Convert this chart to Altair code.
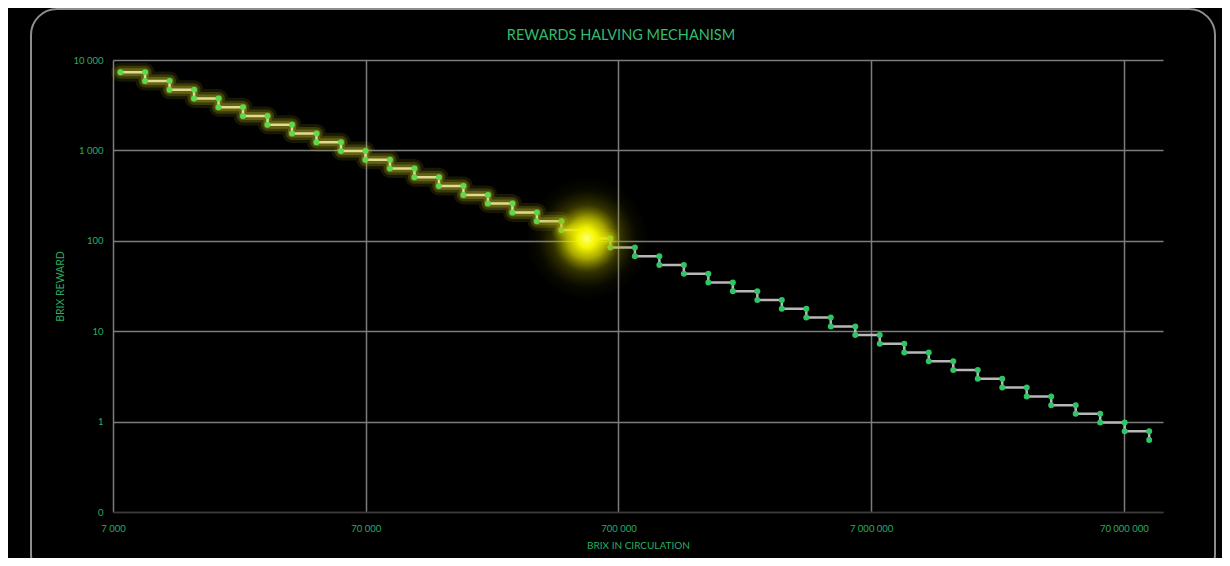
import altair as alt
import pandas as pd

# ---- data ----
circulation = [7500, 9375, 11719, 14648, 18311, 22888, 28610, 35763, 44703, 55879,
               69849, 87311, 109139, 136424, 170530, 213162, 266453, 333066, 416333, 520416,
               650520, 813150, 1016437, 1270547, 1588183, 1985229, 2481536, 3101920, 3877401, 4846751,
               6058438, 7573048, 9466310, 11832888, 14791110, 18488887, 23111109, 28888886, 36111108, 45138885,
               56423606, 70529508, 88161885]
reward = [7330, 5864, 4691, 3753, 3002, 2402, 1922, 1537, 1230, 984,
          787, 630, 504, 403, 322, 258, 206, 165, 132, 106,
          84.5, 67.6, 54.1, 43.3, 34.6, 27.7, 22.2, 17.7, 14.2, 11.3,
          9.07, 7.26, 5.81, 4.65, 3.72, 2.97, 2.38, 1.90, 1.52, 1.22,
          0.975, 0.780, 0.624]
current_circulation = [525000]
current_reward = [106]
x_ticks = [7000, 70000, 700000, 7000000, 70000000]
y_ticks = [0.1, 1, 10, 100, 1000, 10000]
progress_step = 20  # steps already reached (glowing part)
chart_title = "REWARDS HALVING MECHANISM"

# step table built from the lists above
rows = [{"idx": 0, "x": circulation[0], "y": reward[0]}]
for i in range(1, len(circulation)):
    rows.append({"idx": len(rows), "x": circulation[i], "y": reward[i - 1]})
    rows.append({"idx": len(rows), "x": circulation[i], "y": reward[i]})
steps = pd.DataFrame(rows)
cut = 2 * progress_step - 1
past = steps[steps["idx"] <= cut]
future = steps[steps["idx"] >= cut]
now = pd.DataFrame({"x": current_circulation, "y": current_reward})

GREEN_TXT = "#2aad62"
FONT = "Lato"
W, H = 1050, 452

fmt_num = "replace(replace(format(datum.value, ','), ',', ' '), ',', ' ')"

xs = alt.Scale(type="log", domain=[7000, 100000000], nice=False)
ys = alt.Scale(type="log", domain=[0.1, 10000], nice=False)

x_enc = alt.X("x:Q", scale=xs, title="BRIX IN CIRCULATION",
              axis=alt.Axis(values=x_ticks, labelExpr=fmt_num, grid=True, labelFlush=False,
                            gridColor="#7c7c7c", gridWidth=1.5, ticks=False,
                            domainColor="#3a3a3a", domainWidth=1.5,
                            labelColor=GREEN_TXT, labelFont=FONT, labelFontSize=9.5,
                            labelPadding=11, titleColor=GREEN_TXT, titleFont=FONT,
                            titleFontSize=10, titleFontWeight="normal", titlePadding=8))
y_enc = alt.Y("y:Q", scale=ys, title="BRIX REWARD",
              axis=alt.Axis(values=y_ticks,
                            labelExpr="datum.value < 1 ? '0' : " + fmt_num,
                            grid=True, labelFlush=False,
                            gridColor={"condition": {"test": "datum.value < 1", "value": "#3a3a3a"},
                                       "value": "#7c7c7c"},
                            gridWidth=1.5, ticks=False, domain=False,
                            labelColor=GREEN_TXT, labelFont=FONT, labelFontSize=9.5,
                            labelPadding=10, titleColor=GREEN_TXT, titleFont=FONT,
                            titleFontSize=10.5, titleFontWeight="normal", titlePadding=8))

frame = alt.Chart(pd.DataFrame({"a": [0]})).mark_rect(
    fillOpacity=0, stroke="#8e8e8e", strokeWidth=2, cornerRadius=26
).encode(x=alt.value(-82), x2=alt.value(1102), y=alt.value(-51), y2=alt.value(520))

title = alt.Chart(pd.DataFrame({"t": [chart_title]})).mark_text(
    color="#30bd6c", font=FONT, fontSize=14.5, align="center", baseline="middle"
).encode(text="t:N", x=alt.value(W / 2 - 17), y=alt.value(-24))

glow_layers = []
for w, op in [(19, 0.12), (13, 0.22), (8, 0.32)]:
    glow_layers.append(alt.Chart(past).mark_line(
        color="#bcbc22", strokeWidth=w, opacity=op, strokeCap="round", strokeJoin="round"
    ).encode(x=x_enc if not glow_layers else "x:Q", y=y_enc if not glow_layers else "y:Q",
             order="idx:Q"))

blob = alt.Chart(now).mark_circle(
    size=15000, opacity=1,
    fill={"gradient": "radial", "x1": 0.5, "y1": 0.5, "r1": 0, "x2": 0.5, "y2": 0.5, "r2": 0.5,
          "stops": [{"offset": 0, "color": "#ffff78"},
                    {"offset": 0.15, "color": "#f6f600"},
                    {"offset": 0.33, "color": "rgba(225,225,0,0.75)"},
                    {"offset": 0.55, "color": "rgba(170,170,0,0.3)"},
                    {"offset": 0.8, "color": "rgba(120,120,0,0.08)"},
                    {"offset": 1, "color": "rgba(100,100,0,0)"}]}
).encode(x="x:Q", y="y:Q")

core_past = alt.Chart(past).mark_line(
    color="#e2d992", strokeWidth=2.5, strokeJoin="round"
).encode(x="x:Q", y="y:Q", order="idx:Q")
core_future = alt.Chart(future).mark_line(
    color="#b8b8b8", strokeWidth=2.5, strokeJoin="round"
).encode(x="x:Q", y="y:Q", order="idx:Q")

dots_past = alt.Chart(past).mark_circle(color="#5fd84c", size=36, opacity=1).encode(x="x:Q", y="y:Q")
dots_future = alt.Chart(future[future["idx"] > cut]).mark_circle(
    color="#2fc464", size=36, opacity=1).encode(x="x:Q", y="y:Q")

chart = alt.layer(
    frame, *glow_layers, core_past, core_future, dots_past, dots_future, blob, title
).properties(
    width=W, height=H,
    autosize=alt.AutoSizeParams(type="none"),
    padding={"left": 105, "top": 52, "right": 59, "bottom": 46},
    background="#000000",
).configure_view(stroke=None)

chart.save("out.html", embed_options={"renderer": "svg", "actions": False})
